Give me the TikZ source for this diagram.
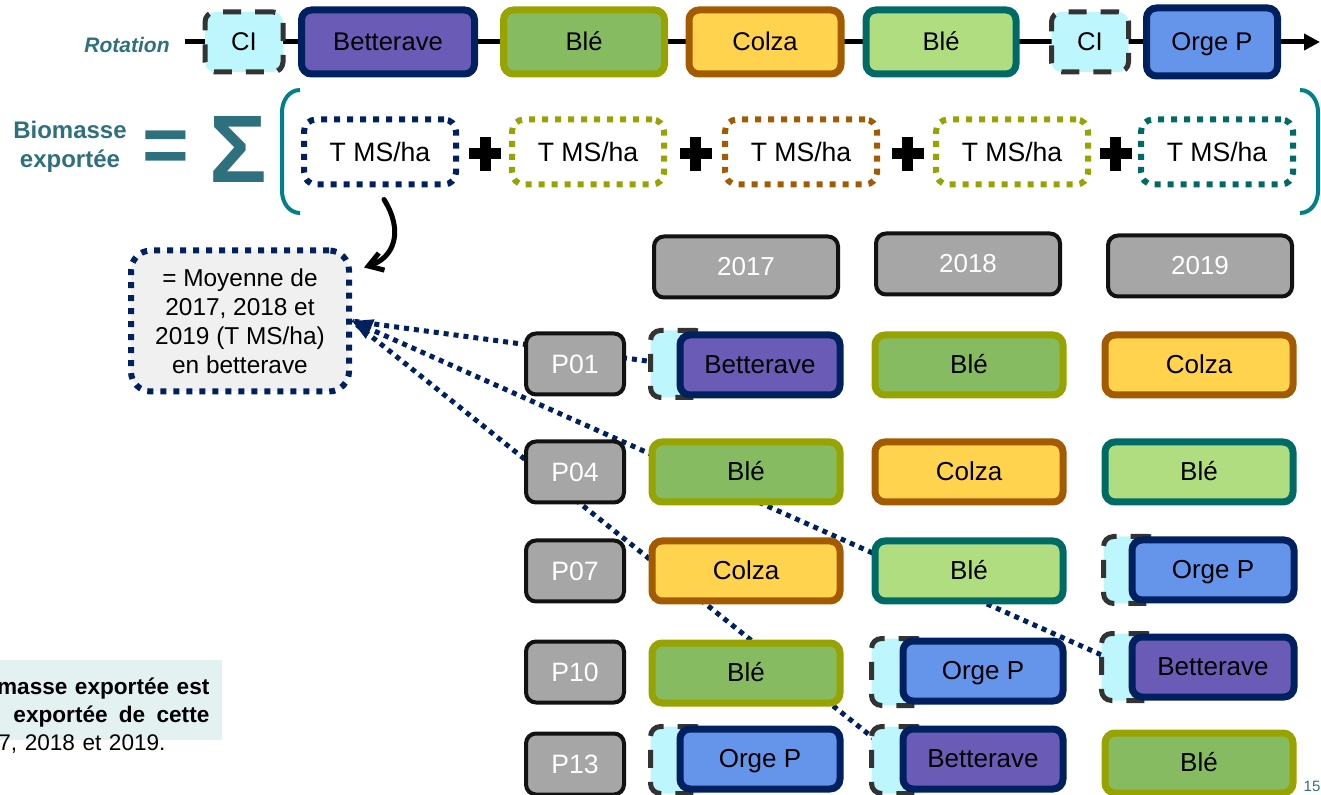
\documentclass[tikz,border=0pt]{standalone}
\usepackage{fontspec}
\setmainfont{Liberation Sans}
\usetikzlibrary{arrows.meta,backgrounds,calc}

\definecolor{navy}{RGB}{0,32,96}
\definecolor{textteal}{RGB}{47,112,127}
\definecolor{bracketteal}{RGB}{0,128,138}
\definecolor{betfill}{RGB}{106,92,182}
\definecolor{bleedge}{RGB}{150,163,0}
\definecolor{blefill}{RGB}{135,187,98}
\definecolor{tealedge}{RGB}{0,107,102}
\definecolor{blelfill}{RGB}{176,221,128}
\definecolor{colzaedge}{RGB}{163,90,0}
\definecolor{colzafill}{RGB}{255,211,77}
\definecolor{orgefill}{RGB}{100,149,235}
\definecolor{cifill}{RGB}{189,247,253}
\definecolor{cigray}{RGB}{51,51,51}
\definecolor{boxgray}{RGB}{166,166,166}
\definecolor{avgfill}{RGB}{240,240,240}
\definecolor{notefill}{RGB}{227,241,241}

\tikzset{
	cropbox/.style={draw, rounded corners=5pt, line width=3.5pt, inner sep=0pt,
		minimum height=30pt, text height=0.82em, text depth=0pt,
		font=\fontsize{13}{15}\selectfont},
	toprow/.style={minimum height=32pt, font=\fontsize{12.8}{15}\selectfont},
	full/.style={minimum width=94pt},
	part/.style={minimum width=80pt},
	betterave/.style={cropbox, draw=navy, fill=betfill},
	ble/.style={cropbox, draw=bleedge, fill=blefill},
	blelight/.style={cropbox, draw=tealedge, fill=blelfill},
	colza/.style={cropbox, draw=colzaedge, fill=colzafill},
	orge/.style={cropbox, draw=navy, fill=orgefill},
	ci/.style={draw=cigray, fill=cifill, line width=2.5pt, dash pattern=on 9pt off 7pt,
		rounded corners=5pt, inner sep=0pt, minimum width=27.5pt, minimum height=33.5pt,
		text height=0.82em, text depth=0pt, font=\fontsize{13}{15}\selectfont},
	parcel/.style={draw=black!93, fill=boxgray, line width=2pt, rounded corners=5pt,
		text=white, inner sep=0pt, minimum width=49pt, minimum height=30.5pt,
		font=\fontsize{13.3}{15}\selectfont},
	yearbox/.style={parcel, minimum width=92pt, font=\fontsize{13}{15}\selectfont},
	tms/.style={draw, fill=white, line width=3pt, dash pattern=on 3pt off 3.5pt,
		rounded corners=6pt, inner sep=0pt, minimum width=76pt, minimum height=32.5pt,
		font=\fontsize{13.3}{15}\selectfont},
	link/.style={navy, line width=2.5pt, dash pattern=on 2.5pt off 2.5pt},
	bracket/.style={bracketteal, line width=2pt},
	tealtext/.style={text=textteal, font=\fontsize{12}{14.5}\selectfont\bfseries},
}

\begin{document}
\begin{tikzpicture}[x=0.5pt, y=-0.5pt]
	\path[use as bounding box] (0,0) rectangle (1321,795);
	\clip (0,0) rectangle (1321,795);

	% rotation
	\node[text=textteal, font=\fontsize{10.5}{12}\selectfont\bfseries\itshape] (rotlabel) at (127,45) {Rotation};
	\coordinate (rotstart) at (185,42);
	\coordinate (rotend) at (1320,42);
	\node[ci, toprow, minimum width=39pt, minimum height=30pt] (r1) at (244,42) {CI};
	\node[betterave, toprow, minimum width=86.5pt] (r2) at (388,42) {Betterave};
	\node[ble, toprow, minimum width=80.5pt] (r3) at (584,42) {Blé};
	\node[colza, toprow, minimum width=76pt] (r4) at (765,42) {Colza};
	\node[blelight, toprow, minimum width=75pt] (r5) at (941,42) {Blé};
	\node[ci, toprow, minimum width=38.5pt, minimum height=30pt] (r6) at (1090,42) {CI};
	\node[orge, toprow, minimum width=65.5pt, minimum height=34pt] (r7) at (1212,42) {Orge P};

	% biomasse exportee
	\node[tealtext, align=center] (biolabel) at (70,147) {Biomasse\\exportée};
	\node[text=textteal, font=\fontsize{40}{40}\selectfont\bfseries, inner sep=0pt] (equal) at (166,152) {=};
	\node[text=textteal, font=\fontsize{48}{48}\selectfont\bfseries, inner sep=0pt] (sigma) at (238,149) {Σ};
	\draw[bracket] (300,90) to[out=180,in=90] (282,112) -- (282,191) to[out=-90,in=180] (300,213);
	\draw[bracket] (1300,90) to[out=0,in=90] (1318,112) -- (1318,191) to[out=-90,in=0] (1300,213);

	\node[tms, draw=navy] (tms1) at (380,152) {T MS/ha};
	\node[tms, draw=bleedge] (tms2) at (588,152) {T MS/ha};
	\node[tms, draw=colzaedge] (tms3) at (801,152) {T MS/ha};
	\node[tms, draw=bleedge] (tms4) at (1012,152) {T MS/ha};
	\node[tms, draw=tealedge] (tms5) at (1217,152) {T MS/ha};
	\foreach \a [evaluate=\a as \b using int(\a+1)] in {1,...,4}{
		\coordinate (plus\a) at ($(tms\a)!0.5!(tms\b)+(1,2)$);
		\draw[line width=5.5pt] ($(plus\a)+(-16,0)$) -- ($(plus\a)+(16,0)$);
		\draw[line width=5.5pt] ($(plus\a)+(0,-17)$) -- ($(plus\a)+(0,17)$);
	}

	% moyenne
	\node[draw=navy, fill=avgfill, line width=3pt, dash pattern=on 3pt off 3.5pt,
		rounded corners=10pt, minimum width=109pt, minimum height=70.5pt, align=center,
		font=\fontsize{12.2}{14.5}\selectfont] (avg) at (240,321)
		{= Moyenne de\\2017, 2018 et\\2019 (T MS/ha)\\en betterave};
	\draw[line width=2.5pt, line cap=round, -{Straight Barb[length=7pt,width=9pt]}]
		($(tms1.south)+(4,12)$) .. controls ($(tms1.south)+(24,44)$) and ($(tms1.south)+(14,70)$) .. ($(avg.north east)+(12,20)$);

	% years
	\node[yearbox] (y2017) at (746,267) {2017};
	\node[yearbox] (y2018) at (968,264) {2018};
	\node[yearbox] (y2019) at (1200,266) {2019};

	% parcels
	\node[parcel] (p01) at (575,364) {P01};
	\node[parcel] (p04) at (575,472) {P04};
	\node[parcel] (p07) at (575,571) {P07};
	\node[parcel] (p10) at (575,672) {P10};
	\node[parcel] (p13) at (575,764) {P13};

	\node[ci] (c01a) at (678,364) {};
	\node[betterave, part] (b01a) at (760,365) {Betterave};
	\node[ble, full] (b01b) at (969,365) {Blé};
	\node[colza, full] (b01c) at (1199,365) {Colza};

	\node[ble, full] (b04a) at (746,472) {Blé};
	\node[colza, full] (b04b) at (969,472) {Colza};
	\node[blelight, full] (b04c) at (1199,472) {Blé};

	\node[colza, full] (b07a) at (746,571) {Colza};
	\node[blelight, full] (b07b) at (969,571) {Blé};
	\node[ci] (c07c) at (1131,570) {};
	\node[orge, part, minimum width=81pt] (b07c) at (1213,570) {Orge P};

	\node[ble, full] (b10a) at (746,673) {Blé};
	\node[ci] (c10b) at (899,672) {};
	\node[orge, part] (b10b) at (983,671) {Orge P};
	\node[ci] (c10c) at (1129,667) {};
	\node[betterave, part, minimum width=81pt] (b10c) at (1213,667) {Betterave};

	\node[ci] (c13a) at (678,760) {};
	\node[orge, part] (b13a) at (760,759) {Orge P};
	\node[ci] (c13b) at (899,760) {};
	\node[betterave, part] (b13b) at (983,759) {Betterave};
	\node[ble, full] (b13c) at (1199,763) {Blé};

	% note
	\node[fill=notefill, minimum width=111pt, minimum height=40pt, inner sep=0pt] (notebox) at (111,700) {};
	\node[anchor=west, inner sep=0pt, text width=113pt, align=left,
		font=\fontsize{11.3}{14}\selectfont] (notetext) at (-17,716)
		{\hspace*{\fill}\textbf{masse exportée est}\\
		 \hspace*{\fill}\textbf{exportée\hspace{0.5em}de\hspace{0.5em}cette}\\
		 \hspace*{7.5pt}7, 2018 et 2019.};
	\node[text=textteal, font=\fontsize{7.5}{9}\selectfont, inner sep=0pt] (pagenum) at (1312,786) {15};

	\begin{pgfonlayer}{background}
		\draw[line width=2.5pt, -{Triangle[length=8pt,width=8pt]}] (rotstart) -- (rotend);
		\draw[link] (b01a.west) -- (avg.east);
		\draw[link, -{Triangle[length=10pt,width=10pt]}] (b10c.west) -- (avg.east);
		\draw[link] (b13b.west) -- (avg.east);
	\end{pgfonlayer}
\end{tikzpicture}
\end{document}
